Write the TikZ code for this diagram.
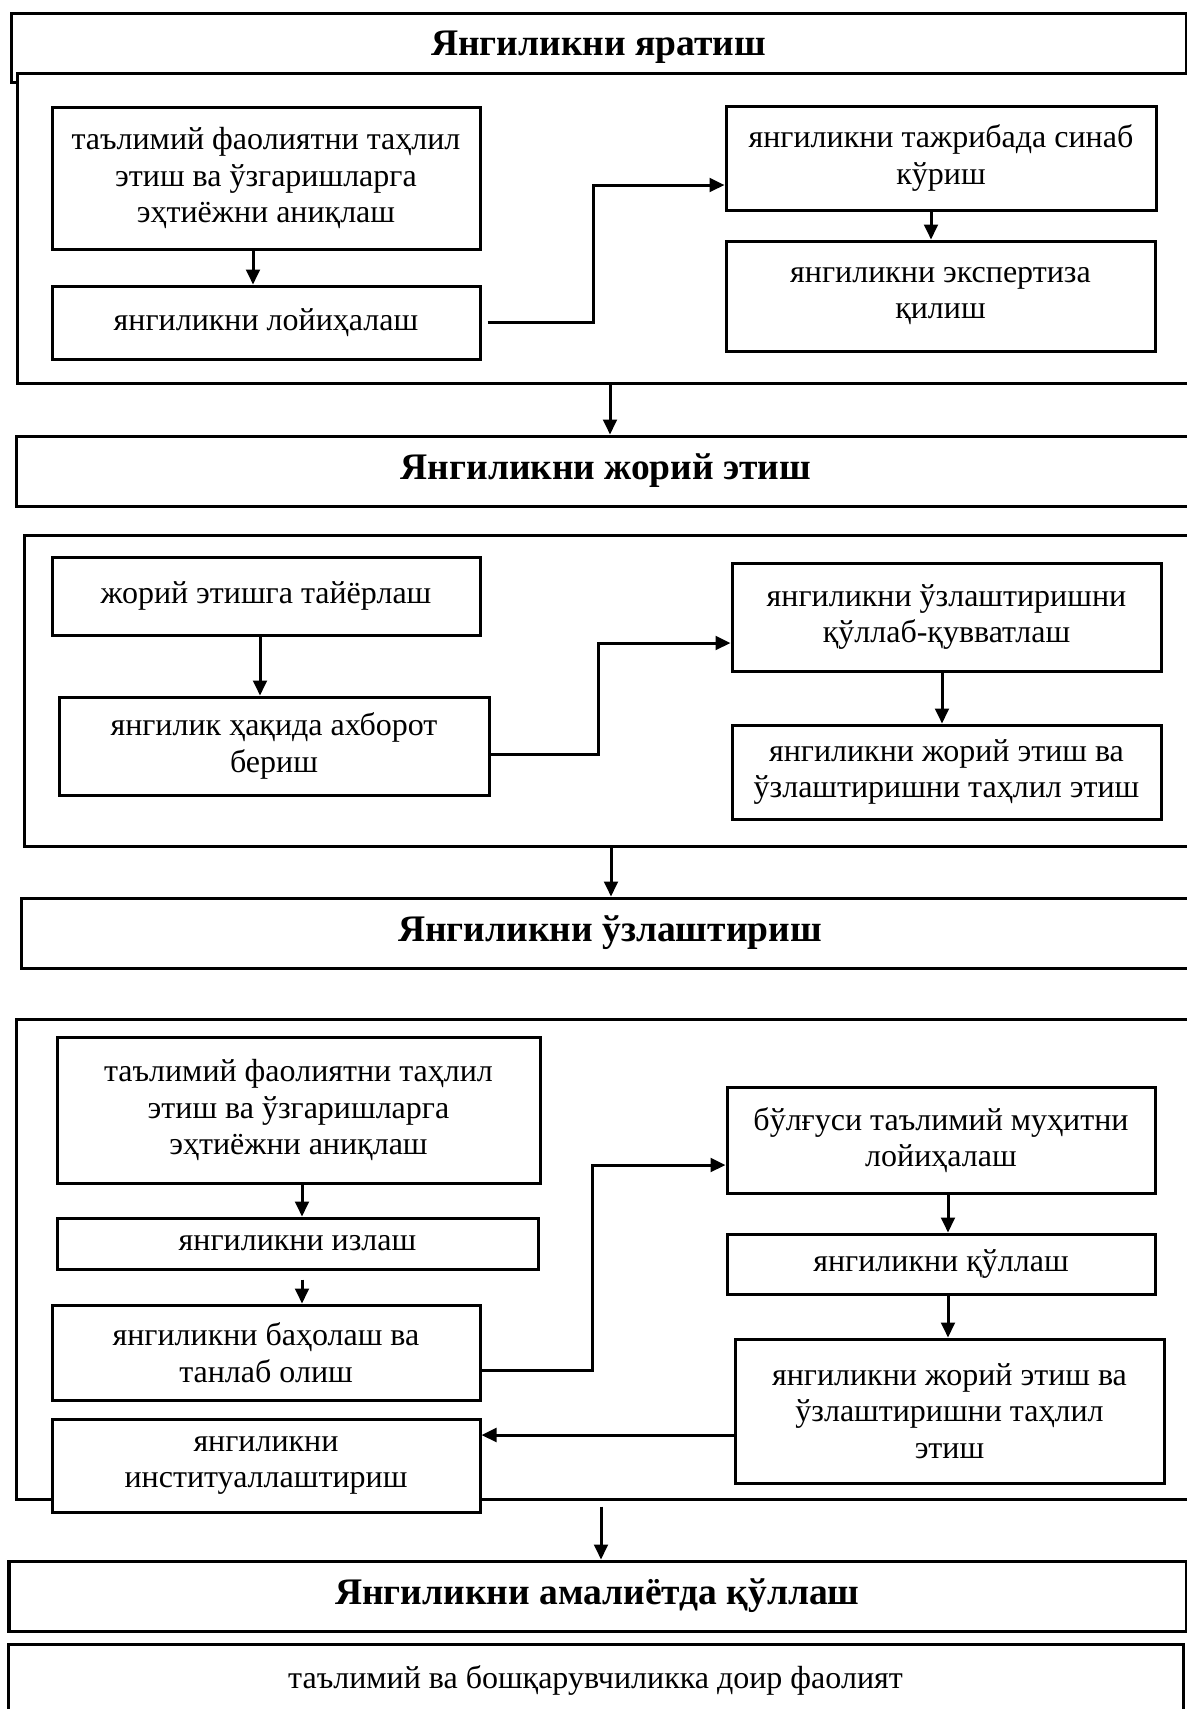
\documentclass[tikz,border=0pt]{standalone}
\usepackage{fontspec}
\setmainfont{Liberation Serif}
\usetikzlibrary{arrows.meta,calc}

\begin{document}
\begin{tikzpicture}[x=0.4pt,y=-0.4pt,line width=1.2pt,
  item/.style 2 args={draw,fill=white,inner sep=0pt,align=center,
    minimum width=#1*0.4pt,minimum height=#2*0.4pt,font=\fontsize{12.8}{14.6}\selectfont},
  stage/.style 2 args={item={#1}{#2},font=\fontsize{15}{17}\selectfont\bfseries},
  frame/.style 2 args={draw,fill=white,inner sep=0pt,minimum width=#1*0.4pt,minimum height=#2*0.4pt},
  arr/.style={-{Triangle[length=6pt,width=5.5pt]}}]
\useasboundingbox (0,0) rectangle (1187,1709);
\clip (0,0) rectangle (1187,1709);

% stage 1
\node[stage={1175}{69}] (s1) at (598.5,47.5) {Янгиликни яратиш};
\node[frame={1183}{310}] (r1) at (608.5,228) {};
\node[item={428}{142}] (a1) at (266,178) {таълимий фаолиятни таҳлил\\этиш ва ўзгаришларга\\эҳтиёжни аниқлаш};
\node[item={428}{73}] (a2) at (266,322.5) {янгиликни лойиҳалаш};
\node[item={430}{104}] (b1) at (941,158) {янгиликни тажрибада синаб\\кўриш};
\node[item={429}{110}] (b2) at (940.5,296) {янгиликни экспертиза\\қилиш};
\draw[arr] ($(a1.south)+(-13,0)$) -- ($(a2.north)+(-13,0)$);
\draw[arr] ($(a2.east)+(6,0)$) -- ++(106,0) |- ($(b1.west)+(0,27)$);
\draw[arr] ($(b1.south)+(-10,0)$) -- ($(b2.north)+(-9.5,0)$);

% stage 2
\node[stage={1180}{70}] (s2) at (606,471) {Янгиликни жорий этиш};
\draw[arr] ($(r1.south)+(1.5,0)$) -- ($(s2.north)+(4,0)$);
\node[frame={1176}{311}] (r2) at (612,690.5) {};
\node[item={428}{78}] (c1) at (266,596) {жорий этишга тайёрлаш};
\node[item={430}{98}] (c2) at (274,746) {янгилик ҳақида ахборот\\бериш};
\node[item={429}{108}] (d1) at (946.5,617) {янгиликни ўзлаштиришни\\қўллаб-қувватлаш};
\node[item={429}{94}] (d2) at (946.5,772) {янгиликни жорий этиш ва\\ўзлаштиришни таҳлил этиш};
\draw[arr] ($(c1.south)+(-6,0)$) -- ($(c2.north)+(-14,0)$);
\draw[arr] ($(c2.east)+(0,8)$) -- ++(108,0) |- ($(d1.west)+(0,26)$);
\draw[arr] ($(d1.south)+(-4.5,0)$) -- ($(d2.north)+(-4.5,0)$);

% stage 3
\node[stage={1178}{70}] (s3) at (610,933) {Янгиликни ўзлаштириш};
\draw[arr] ($(r2.south)+(-1,0)$) -- ($(s3.north)+(1,0)$);
\node[frame={1184}{480}] (r3) at (608,1259) {};
\node[item={483}{146}] (e1) at (298.5,1110) {таълимий фаолиятни таҳлил\\этиш ва ўзгаришларга\\эҳтиёжни аниқлаш};
\node[item={481}{51}] (e2) at (297.5,1243.5) {янгиликни излаш};
\node[item={428}{95}] (e3) at (266,1352.5) {янгиликни баҳолаш ва\\танлаб олиш};
\node[item={428}{93}] (e4) at (266,1465.5) {янгиликни\\институаллаштириш};
\node[item={428}{106}] (f1) at (941,1140) {бўлғуси таълимий муҳитни\\лойиҳалаш};
\node[item={428}{60}] (f2) at (941,1264) {янгиликни қўллаш};
\node[item={429}{144}] (f3) at (949.5,1411) {янгиликни жорий этиш ва\\ўзлаштиришни таҳлил\\этиш};
\draw[arr] ($(e1.south)+(3.5,0)$) -- ($(e2.north)+(4.5,0)$);
\draw[arr] ($(e2.south)+(4.5,9)$) -- ($(e3.north)+(36,0)$);
\draw[arr] ($(e3.east)+(0,17.5)$) -- ++(111,0) |- ($(f1.west)+(0,25)$);
\draw[arr] ($(f1.south)+(7,0)$) -- ($(f2.north)+(7,0)$);
\draw[arr] ($(f2.south)+(7,0)$) -- ($(f3.north)+(-1.5,0)$);
\draw[arr] ($(f3.west)+(0,24)$) -- ($(e4.east)+(0,-30.5)$);

% stage 4
\node[stage={1177}{70}] (s4) at (597.5,1596) {Янгиликни амалиётда қўллаш};
\draw[arr] ($(r3.south)+(-7,6)$) -- ($(s4.north)+(3.5,0)$);
\node[item={1175}{72}] (w) at (595.5,1680) {таълимий ва бошқарувчиликка доир фаолият};
\end{tikzpicture}
\end{document}
